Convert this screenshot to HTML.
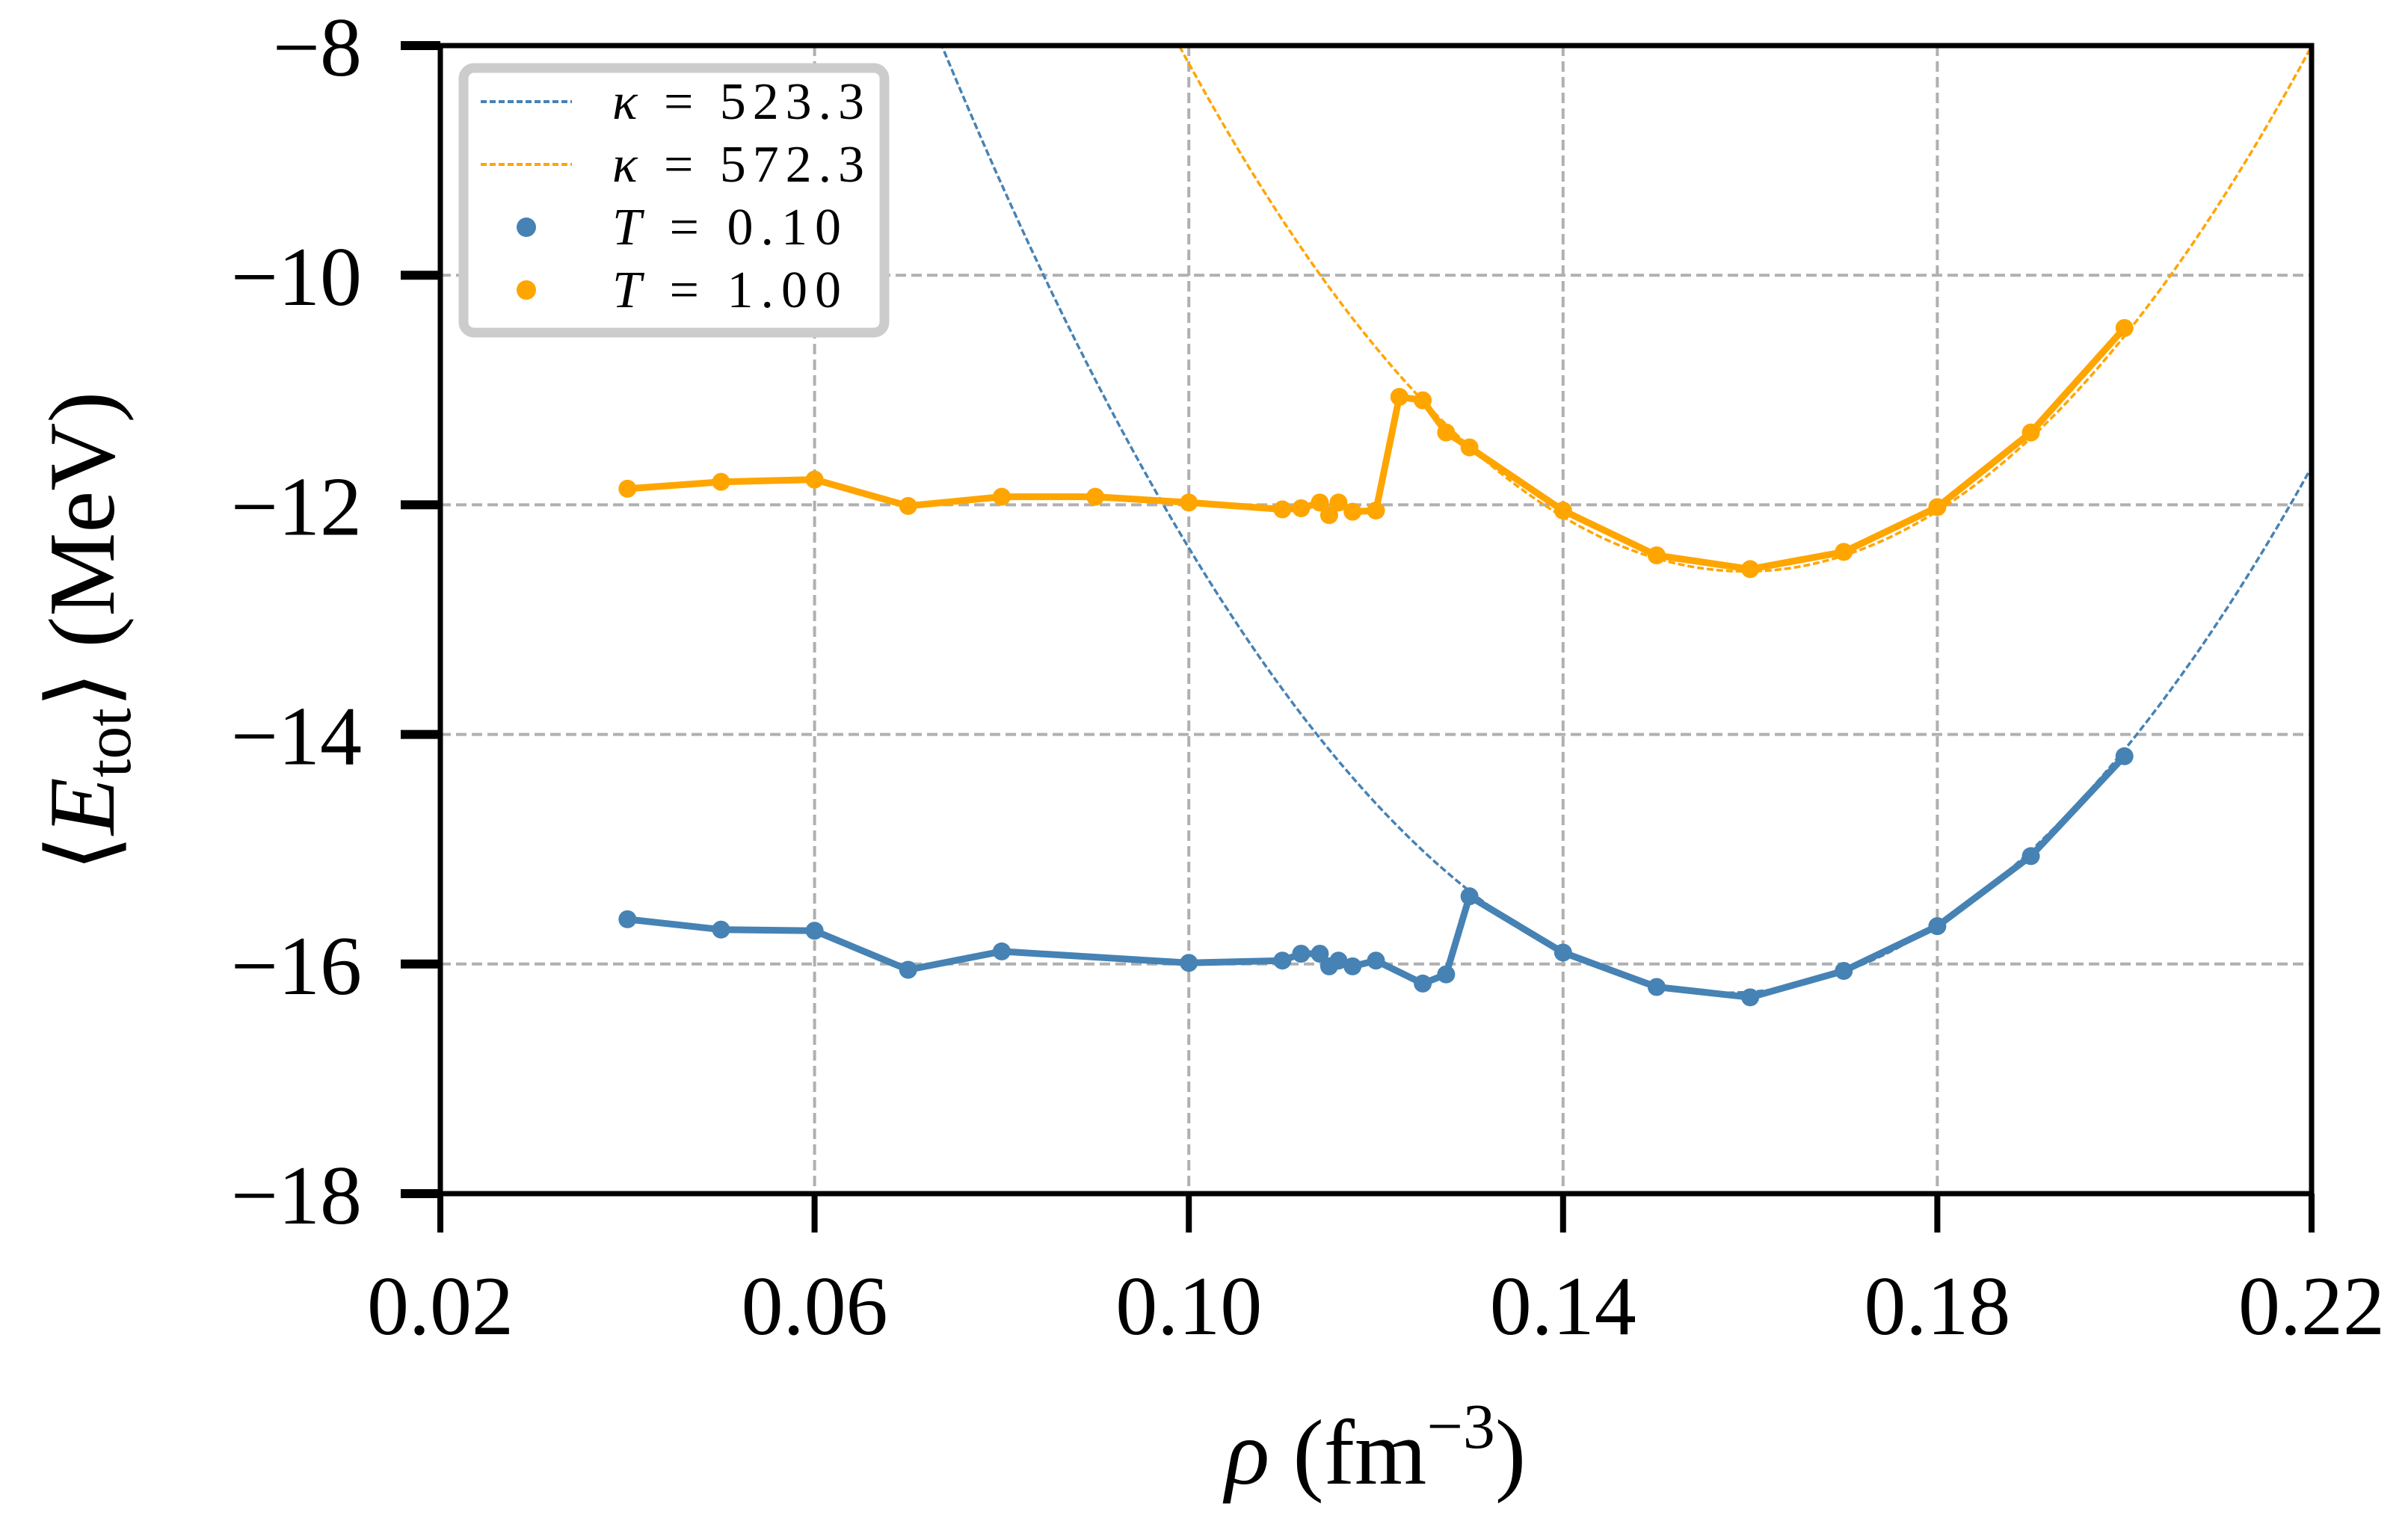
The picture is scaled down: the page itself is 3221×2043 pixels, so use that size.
<!DOCTYPE html>
<html><head><meta charset="utf-8"><style>
html,body{margin:0;padding:0;background:#fff;}
svg{display:block;}
text{font-family:"Liberation Serif","DejaVu Serif",serif;fill:#000;}
</style></head><body>
<svg id="chart" width="3221" height="2043" viewBox="0 0 3221 2043" xmlns="http://www.w3.org/2000/svg">
<g id="grid"></g>
<g id="curves"></g>
<g id="series"></g>
<g id="axes"></g>
<text x="1840" y="1985" font-size="124" text-anchor="middle"><tspan font-style="italic">ρ</tspan> (fm<tspan dy="-48" font-size="86">−3</tspan><tspan dy="48">)</tspan></text>
<text transform="translate(152,845) rotate(-90)" font-size="126" text-anchor="middle">⟨<tspan font-style="italic">E</tspan><tspan dy="22" font-size="88">tot</tspan><tspan dy="-22">⟩ (MeV)</tspan></text>
<g>
<rect x="620" y="91" width="563" height="354" rx="14" fill="#fff" stroke="#cccccc" stroke-width="13"/>
<line x1="643" y1="136" x2="765" y2="136" stroke="#4682b4" stroke-width="4" stroke-dasharray="8,4"/>
<text x="819" y="159" font-size="70" textLength="337" lengthAdjust="spacing"><tspan font-style="italic">κ</tspan> = 523.3</text>
<line x1="643" y1="220" x2="765" y2="220" stroke="#ffa500" stroke-width="4" stroke-dasharray="8,4"/>
<text x="819" y="243" font-size="70" textLength="337" lengthAdjust="spacing"><tspan font-style="italic">κ</tspan> = 572.3</text>
<circle cx="704" cy="304" r="13" fill="#4682b4"/>
<text x="819" y="327" font-size="70" textLength="306" lengthAdjust="spacing"><tspan font-style="italic">T</tspan> = 0.10</text>
<circle cx="704" cy="388" r="13" fill="#ffa500"/>
<text x="819" y="411" font-size="70" textLength="306" lengthAdjust="spacing"><tspan font-style="italic">T</tspan> = 1.00</text>
</g>
</svg>
<script>
const xTicks = [0.02, 0.06, 0.10, 0.14, 0.18, 0.22];
const xTickLabels = ["0.02", "0.06", "0.10", "0.14", "0.18", "0.22"];
const yTicks = [-8, -10, -12, -14, -16, -18];
const yTickLabels = ["−8", "−10", "−12", "−14", "−16", "−18"];
const rhoBlue = [0.04,0.05,0.06,0.07,0.08,0.10,0.11,0.112,0.114,0.115,0.116,0.1175,0.12,0.125,0.1275,0.13,0.14,0.15,0.16,0.17,0.18,0.19,0.20];
const eBlue = [-15.61,-15.70,-15.71,-16.05,-15.89,-15.99,-15.97,-15.91,-15.91,-16.02,-15.97,-16.02,-15.97,-16.17,-16.09,-15.41,-15.90,-16.20,-16.29,-16.06,-15.67,-15.06,-14.19];
const rhoOrange = [0.04,0.05,0.06,0.07,0.08,0.09,0.10,0.11,0.112,0.114,0.115,0.116,0.1175,0.12,0.1225,0.125,0.1275,0.13,0.14,0.15,0.16,0.17,0.18,0.19,0.20];
const eOrange = [-11.86,-11.80,-11.78,-12.01,-11.93,-11.93,-11.98,-12.04,-12.03,-11.98,-12.09,-11.98,-12.06,-12.05,-11.06,-11.09,-11.37,-11.50,-12.05,-12.44,-12.56,-12.41,-12.02,-11.37,-10.46];
const fitKappa = [523.3, 572.3];
const fitRho0 = [0.1575, 0.1595];
const fitE0 = [-16.25, -12.58];

const NS = "http://www.w3.org/2000/svg";
const X0 = 589, X1 = 3092, Y0 = 61, Y1 = 1597;
const xMin = 0.02, xMax = 0.22, yMin = -18, yMax = -8;
function sx(v){ return X0 + (v - xMin) / (xMax - xMin) * (X1 - X0); }
function sy(v){ return Y1 - (v - yMin) / (yMax - yMin) * (Y1 - Y0); }
function mk(tag, attrs, parent){ const e = document.createElementNS(NS, tag); for (const k in attrs) e.setAttribute(k, attrs[k]); parent.appendChild(e); return e; }

const grid = document.getElementById('grid');
const axes = document.getElementById('axes');
xTicks.forEach((t, i) => {
  const x = sx(t);
  if (i > 0 && i < xTicks.length - 1) {
    const g = mk('line', {x1:x, y1:Y0, x2:x, y2:Y1, stroke:'#b0b0b0', 'stroke-width':4, 'stroke-dasharray':'14,7'}, grid);
    
    
  }
  const tk = mk('line', {x1:x, y1:Y1, x2:x, y2:Y1 + 52, stroke:'#000', 'stroke-width':8}, axes);
  
  
  const lb = mk('text', {x:x, y:1785, 'font-size':112, 'text-anchor':'middle'}, axes);
  lb.textContent = xTickLabels[i];
  
  
});
yTicks.forEach((t, i) => {
  const y = sy(t);
  if (i > 0 && i < yTicks.length - 1) {
    const g = mk('line', {x1:X0, y1:y, x2:X1, y2:y, stroke:'#b0b0b0', 'stroke-width':4, 'stroke-dasharray':'14,7'}, grid);
    
    
  }
  const tk = mk('line', {x1:X0 - 53, y1:y, x2:X0, y2:y, stroke:'#000', 'stroke-width':12}, axes);
  
  
  const lb = mk('text', {x:484, y:y + 40, 'font-size':112, 'text-anchor':'end'}, axes);
  lb.textContent = yTickLabels[i];
  
  
});
const frame = mk('rect', {x:X0, y:Y0, width:X1 - X0, height:Y1 - Y0, fill:'none', stroke:'#000', 'stroke-width':7}, axes);



// fit curves
const curves = document.getElementById('curves');
const fitColors = ['#4682b4', '#ffa500'];
fitKappa.forEach((K, i) => {
  const r0 = fitRho0[i], e0 = fitE0[i];
  let d = '';
  for (let k = 0; k <= 400; k++) {
    const r = xMin + (xMax - xMin) * k / 400;
    const e = e0 + K / 18 * Math.pow((r - r0) / r0, 2);
    d += (k ? 'L' : 'M') + sx(r).toFixed(1) + ',' + sy(e).toFixed(1);
  }
  const p = mk('path', {d:d, fill:'none', stroke:fitColors[i], 'stroke-width':3.5, 'stroke-dasharray':'9,4'}, curves);
  
  
});
const clip = mk('clipPath', {id:'pc'}, document.getElementById('chart'));
mk('rect', {x:X0, y:Y0, width:X1 - X0, height:Y1 - Y0}, clip);
curves.setAttribute('clip-path', 'url(#pc)');

// data series
const series = document.getElementById('series');
function drawSeries(xs, ys, color, name){
  const g = mk('g', {}, series);
  
  
  const pts = xs.map((x, i) => sx(x).toFixed(1) + ',' + sy(ys[i]).toFixed(1)).join(' ');
  const pl = mk('polyline', {points:pts, fill:'none', stroke:color, 'stroke-width':9, 'stroke-linejoin':'round'}, g);
  
  
  xs.forEach((x, i) => {
    const c = mk('circle', {cx:sx(x), cy:sy(ys[i]), r:12, fill:color}, g);
    
    
  });
}
drawSeries(rhoBlue, eBlue, '#4682b4', 'series-t010');
drawSeries(rhoOrange, eOrange, '#ffa500', 'series-t100');
</script>
</body></html>
